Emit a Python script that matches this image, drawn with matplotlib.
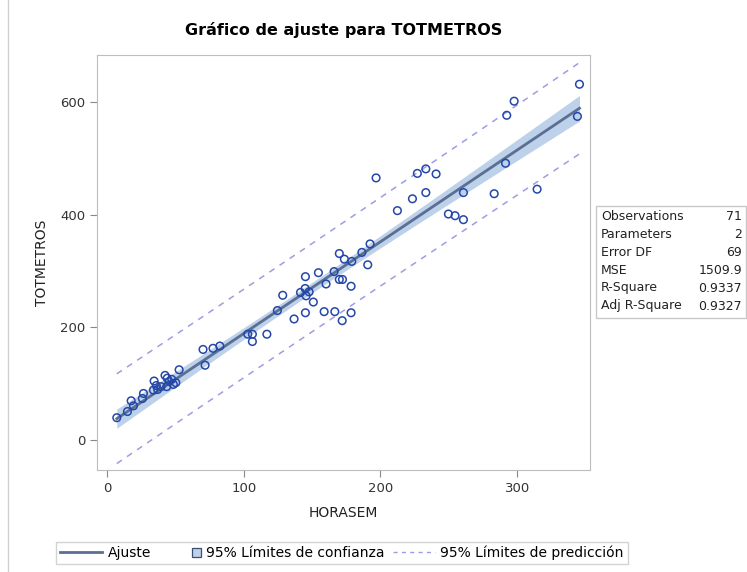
import numpy as np
import matplotlib.pyplot as plt
from matplotlib.patches import Rectangle
from matplotlib.lines import Line2D
from matplotlib.legend_handler import HandlerBase

# --- Data (HORASEM vs TOTMETROS) ---
horasem = [7.1, 14.9, 17.6, 19.3, 26.6, 25.8, 34.4, 33.9, 37.0, 39.5,
           42.4, 43.6, 45.4, 47.3, 48.5, 50.3, 52.7, 71.7, 70.2, 77.5,
           82.5, 36.0, 44.0,
           102.9, 106.3, 106.3, 116.9, 124.6, 128.5, 136.8, 141.5, 145.1, 144.9,
           145.6, 147.8, 145.1, 150.9, 154.6, 160.2, 158.8, 166.1, 166.6, 169.9,
           169.9, 172.2, 172.0, 173.6, 178.5, 178.5, 179.0, 186.4, 192.4, 190.7,
           196.8,
           212.4, 223.4, 227.0, 233.2, 240.7, 233.2, 260.7, 249.7, 254.6, 260.7,
           283.2, 291.5, 314.6, 297.8, 292.4, 345.6, 344.1]
totmetros = [40, 51, 70, 61, 83, 74, 105, 89, 90, 95,
             115, 95, 104, 108, 99, 102, 125, 133, 161, 163,
             167, 97, 110,
             188, 188, 175, 188, 230, 257, 215, 262, 290, 269,
             256, 263, 226, 245, 297, 277, 228, 299, 228, 331,
             285, 285, 212, 321, 273, 226, 317, 333, 348, 311,
             465,
             407, 428, 473, 481, 472, 439, 439, 401, 398, 391,
             437, 491, 445, 601, 576, 631, 574]

stat_names = ["Observations", "Parameters", "Error DF", "MSE", "R-Square", "Adj R-Square"]
stat_values = ["71", "2", "69", "1509.9", "0.9337", "0.9327"]

# --- Regression fit with 95% limits ---
x = np.array(horasem)
y = np.array(totmetros)
n = len(x)
b1, b0 = np.polyfit(x, y, 1)
resid = y - (b0 + b1 * x)
s = np.sqrt(np.sum(resid ** 2) / (n - 2))
t_crit = 1.995  # t(0.975, 69)
xs = np.linspace(x.min(), x.max(), 200)
yfit = b0 + b1 * xs
sxx = np.sum((x - x.mean()) ** 2)
se_mean = s * np.sqrt(1 / n + (xs - x.mean()) ** 2 / sxx)
se_pred = s * np.sqrt(1 + 1 / n + (xs - x.mean()) ** 2 / sxx)

band_col = '#bdd1ea'
fit_col = '#5a6f92'
pred_col = '#9d9de2'
mark_col = '#2447a8'


class SquareHandler(HandlerBase):
    # small square sitting at the right end of the handle box
    def create_artists(self, legend, orig, xd, yd, w, h, fontsize, trans):
        size = h * 0.95
        r = Rectangle((xd + w - size, yd + (h - size) / 2), size, size,
                      facecolor=band_col, edgecolor='#3c4f70', lw=0.9, transform=trans)
        return [r]


fig = plt.figure(figsize=(7.47, 5.72), dpi=100)
ax = fig.add_axes([0.130, 0.178, 0.660, 0.726])

ax.fill_between(xs, yfit - t_crit * se_mean, yfit + t_crit * se_mean,
                color=band_col, lw=0, zorder=1)
ax.plot(xs, yfit, color=fit_col, lw=2, zorder=2)
ax.plot(xs, yfit - t_crit * se_pred, color=pred_col, lw=1.1, ls=(0, (4, 4)), zorder=2)
ax.plot(xs, yfit + t_crit * se_pred, color=pred_col, lw=1.1, ls=(0, (4, 4)), zorder=2)
ax.scatter(x, y, s=30, facecolors='none', edgecolors=mark_col, linewidths=1.1, zorder=3)

ax.set_xlim(-7.3, 353.4)
ax.set_ylim(-53, 683)
ax.set_xticks([0, 100, 200, 300])
ax.set_yticks([0, 200, 400, 600])
for sp in ax.spines.values():
    sp.set_color('#bdbdbd')
ax.tick_params(colors='#333333', labelsize=9.5, length=5, color='#888888')
ax.set_xlabel("HORASEM", fontsize=10, color='#222222', labelpad=8)
ax.set_ylabel("TOTMETROS", fontsize=10, color='#222222', labelpad=8)
ax.set_title("Gráfico de ajuste para TOTMETROS", fontsize=11.5, fontweight='bold', pad=14)

# --- Statistics table to the right ---
box_x0, box_y0, box_w, box_h = 596 / 747, 1 - 318 / 572, 150 / 747, 112 / 572
fig.patches.append(Rectangle((box_x0, box_y0), box_w, box_h, transform=fig.transFigure,
                             facecolor='white', edgecolor='#c8c8c8', lw=1))
for i, (name, val) in enumerate(zip(stat_names, stat_values)):
    yy = 1 - (216 + i * 18) / 572
    fig.text(box_x0 + 5 / 747, yy, name, fontsize=9, va='center', color='#222222')
    fig.text(box_x0 + box_w - 4 / 747, yy, val, fontsize=9, va='center', ha='right', color='#222222')

# --- Legend ---
conf_handle = Rectangle((0, 0), 1, 1)
handles = [Line2D([0], [0], color=fit_col, lw=2),
           conf_handle,
           Line2D([0], [0], color=pred_col, lw=1, ls=(0, (3, 3)))]
labels = ["Ajuste", "95% Límites de confianza", "95% Límites de predicción"]
fig.legend(handles, labels, loc='center', bbox_to_anchor=(342 / 747, 1 - 553 / 572),
           ncol=3, fontsize=10, frameon=True, fancybox=False, edgecolor='#c8c8c8',
           handlelength=3, columnspacing=0.6, handletextpad=0.4, borderpad=0.3,
           handler_map={conf_handle: SquareHandler()})

# light outer frame line at left
fig.add_artist(Line2D([8 / 747, 8 / 747], [0, 1], color='#d0d0d0', lw=1, transform=fig.transFigure))

fig.savefig("out.png", dpi=100)
